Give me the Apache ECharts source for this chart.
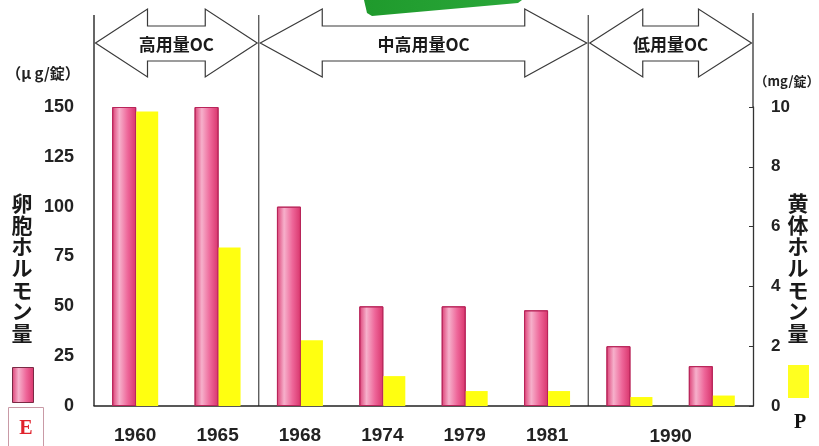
<!DOCTYPE html>
<html>
<head>
<meta charset="utf-8">
<script src="https://cdn.jsdelivr.net/npm/echarts@6/dist/echarts.min.js"></script>
<style>
  html, body { margin: 0; padding: 0; background: #ffffff; }
  #chart { width: 819px; height: 446px; }
</style>
</head>
<body>
<div id="chart"></div>
<script>
// Pill dose history: estrogen (µg/錠) and progestin (mg/錠) per formulation year
const years = ['1960', '1965', '1968', '1974', '1979', '1981', '1990', '1990'];
const estrogenUg = [150, 150, 100, 50, 50, 48, 30, 20];
const progestinMg = [9.85, 5.3, 2.2, 1.0, 0.5, 0.5, 0.3, 0.35];

// Eras, given as category boundaries (slot edges)
const eraNames = ['高用量OC', '中高用量OC', '低用量OC'];
const eraFrom = [0, 2, 6];
const eraTo = [2, 6, 8];

const leftTitle = '卵胞ホルモン量';
const rightTitle = '黄体ホルモン量';
const leftUnit = '（μ g/錠）';
const rightUnit = '（mg/錠）';

const FONT = '"Liberation Sans", Arial, sans-serif';
const NARROW = '"Liberation Sans Narrow", "Liberation Sans", Arial, sans-serif';
const CJK = '"Noto Sans CJK JP", sans-serif';
const SERIF = '"Liberation Serif", "DejaVu Serif", serif';

const pinkStops = [
  { offset: 0, color: '#dc3f75' },
  { offset: 0.3, color: '#f6b0cb' },
  { offset: 0.65, color: '#ee6699' },
  { offset: 1, color: '#d8346b' }
];
const pinkFill = { type: 'linear', x: 0, y: 0, x2: 1, y2: 0, colorStops: pinkStops };

const chart = echarts.init(document.getElementById('chart'), null, { renderer: 'canvas' });

const option = {
  backgroundColor: '#ffffff',
  animation: false,
  grid: { left: 94, right: 66, top: 107, bottom: 40 },
  xAxis: {
    type: 'category',
    data: years,
    axisLine: { lineStyle: { color: '#222', width: 1.5 } },
    axisTick: { inside: true, length: 4, lineStyle: { color: '#333' } },
    axisLabel: {
      margin: 20,
      fontFamily: FONT, fontWeight: 'bold', fontSize: 19, color: '#222',
      formatter: (v, i) => (i >= 6 ? '' : v)
    }
  },
  yAxis: [
    {
      type: 'value', min: 0, max: 150, interval: 25,
      axisLine: { show: false },
      axisTick: { show: false },
      splitLine: { show: false },
      axisLabel: { margin: 20, fontFamily: FONT, fontWeight: 'bold', fontSize: 18, color: '#222' }
    },
    {
      type: 'value', min: 0, max: 10, interval: 2,
      position: 'right',
      axisLine: { show: true, lineStyle: { color: '#333', width: 1.3 } },
      axisTick: { show: true, inside: true, length: 4, lineStyle: { color: '#333' } },
      splitLine: { show: false },
      axisLabel: { margin: 18, fontFamily: NARROW, fontWeight: 'bold', fontSize: 17, color: '#222' }
    }
  ],
  series: [
    {
      name: 'E', type: 'bar', yAxisIndex: 0, data: estrogenUg,
      barWidth: 24, barGap: '0%',
      itemStyle: { color: pinkFill, borderColor: '#b8255a', borderWidth: 1 }
    },
    {
      name: 'P', type: 'bar', yAxisIndex: 1, data: progestinMg,
      barWidth: 22, barGap: '0%',
      itemStyle: { color: '#ffff10' }
    }
  ]
};
chart.setOption(option);

// Overlay: axis extensions, era dividers, era arrows, titles and legend keys
const c0 = chart.convertToPixel({ xAxisIndex: 0 }, 0);
const c1 = chart.convertToPixel({ xAxisIndex: 0 }, 1);
const slotW = c1 - c0;
const edge = k => c0 - slotW / 2 + k * slotW;
const yBottom = chart.convertToPixel({ yAxisIndex: 0 }, 0);
const yTop = chart.convertToPixel({ yAxisIndex: 0 }, 150);
const lineTop = 15;

const g = [];

// green tab cut by the top border
g.push({
  type: 'polygon', silent: true,
  shape: { points: [[364, 0], [522, 0], [518, 3], [372, 16], [367, 13]] },
  style: {
    fill: { type: 'linear', x: 0, y: 0, x2: 1, y2: 0,
      colorStops: [{ offset: 0, color: '#1f9a2c' }, { offset: 1, color: '#2aa83a' }] }
  }
});

// left axis line runs up to the top band
g.push({ type: 'line', silent: true,
  shape: { x1: edge(0), y1: lineTop, x2: edge(0), y2: yBottom },
  style: { stroke: '#333', lineWidth: 1.5 } });
// right axis extension above the plot
g.push({ type: 'line', silent: true,
  shape: { x1: edge(8), y1: lineTop - 2, x2: edge(8), y2: yTop },
  style: { stroke: '#333', lineWidth: 1.3 } });
// era dividers
[2, 6].forEach(k => {
  g.push({ type: 'line', silent: true,
    shape: { x1: edge(k), y1: lineTop, x2: edge(k), y2: yBottom },
    style: { stroke: '#444', lineWidth: 1.2 } });
});

// double-headed block arrows for each era
const tipY = 43, headTop = 9, headBot = 77, shaftTop = 26, shaftBot = 61;
const headLen = [52, 62, 53];
eraNames.forEach((name, i) => {
  const x0 = edge(eraFrom[i]) + 1.5;
  const x1 = edge(eraTo[i]) - 1.5;
  const h = headLen[i];
  g.push({
    type: 'polygon', silent: true,
    shape: { points: [
      [x0, tipY], [x0 + h, headTop], [x0 + h, shaftTop], [x1 - h, shaftTop],
      [x1 - h, headTop], [x1, tipY], [x1 - h, headBot], [x1 - h, shaftBot],
      [x0 + h, shaftBot], [x0 + h, headBot]
    ] },
    style: { fill: '#ffffff', stroke: '#3a3a3a', lineWidth: 1.2 }
  });
  g.push({
    type: 'text', silent: true, x: (x0 + x1) / 2, y: tipY + 2,
    style: { text: name, fill: '#1a1a1a', font: 'bold 17px ' + CJK,
      textAlign: 'center', textVerticalAlign: 'middle' }
  });
});

// shared label for the two 1990 formulations
g.push({
  type: 'text', silent: true, x: edge(7), y: 437,
  style: { text: years[6], fill: '#222', font: 'bold 19px ' + FONT,
    textAlign: 'center', textVerticalAlign: 'middle' }
});

// unit captions
g.push({ type: 'text', silent: true, x: 43, y: 73,
  style: { text: leftUnit, fill: '#222', font: 'bold 15px ' + CJK,
    textAlign: 'center', textVerticalAlign: 'middle' } });
g.push({ type: 'text', silent: true, x: 787, y: 81,
  style: { text: rightUnit, fill: '#222', font: 'bold 13px ' + CJK,
    textAlign: 'center', textVerticalAlign: 'middle' } });

// vertical axis titles
const vertical = s => s.split('').join('\n');
g.push({ type: 'text', silent: true, x: 22, y: 192,
  style: { text: vertical(leftTitle), fill: '#1a1a1a', font: 'bold 21px ' + CJK,
    lineHeight: 21.7, textAlign: 'center', textVerticalAlign: 'top' } });
g.push({ type: 'text', silent: true, x: 798, y: 192,
  style: { text: vertical(rightTitle), fill: '#1a1a1a', font: 'bold 21px ' + CJK,
    lineHeight: 21.7, textAlign: 'center', textVerticalAlign: 'top' } });

// legend keys: E (pink) and P (yellow)
g.push({ type: 'rect', silent: true,
  shape: { x: 12.5, y: 367.5, width: 21, height: 35 },
  style: { fill: { type: 'linear', x: 0, y: 0, x2: 1, y2: 0, colorStops: pinkStops },
    stroke: '#7a2a45', lineWidth: 1 } });
g.push({ type: 'rect', silent: true,
  shape: { x: 8.5, y: 407.5, width: 35, height: 45 },
  style: { fill: '#ffffff', stroke: '#c99aa6', lineWidth: 1 } });
g.push({ type: 'text', silent: true, x: 26, y: 429,
  style: { text: 'E', fill: '#e0222c', font: 'bold 20px ' + SERIF,
    textAlign: 'center', textVerticalAlign: 'middle' } });

g.push({ type: 'rect', silent: true,
  shape: { x: 788, y: 365, width: 21, height: 33 },
  style: { fill: '#ffff20' } });
g.push({ type: 'text', silent: true, x: 800, y: 423,
  style: { text: 'P', fill: '#111', font: 'bold 20px ' + SERIF,
    textAlign: 'center', textVerticalAlign: 'middle' } });

chart.setOption({ graphic: { elements: g } });
</script>
</body>
</html>
